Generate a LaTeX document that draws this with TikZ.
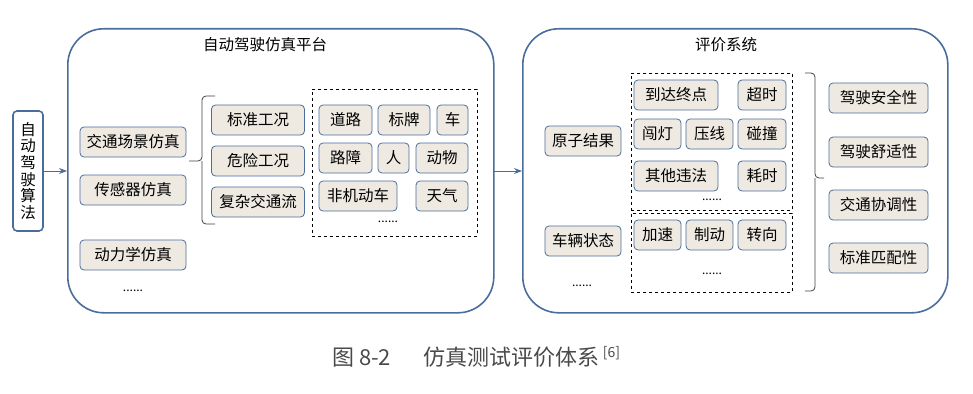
\documentclass[tikz,border=0pt]{standalone}
\usepackage{fontspec}
\setmainfont{Noto Sans CJK SC}
\usetikzlibrary{arrows.meta}
\definecolor{bc}{HTML}{4A6D9C}
\definecolor{bg}{HTML}{EEEAE2}
\definecolor{capc}{HTML}{4A4A4A}
\tikzset{
  bx/.style={draw=bc, fill=bg, line width=0.8pt, rounded corners=4pt, inner sep=0pt, minimum height=30pt, font=\fontsize{15.5}{17}\selectfont},
  big/.style={draw=bc, line width=1.6pt, rounded corners=36pt},
  dbox/.style={draw=black, dashed, line width=0.8pt},
  brc/.style={draw=black!75, line width=0.8pt, rounded corners=4pt},
  arr/.style={draw=bc, line width=1pt, -{Stealth[length=8pt,width=6pt]}},
  dots/.style={font=\fontsize{12}{13}\selectfont},
  ttl/.style={font=\fontsize{15.5}{17}\selectfont}
}
\begin{document}
\begin{tikzpicture}[x=1pt,y=-1pt]
\useasboundingbox (0,0) rectangle (973,393);
% big frames
\node[big, minimum width=426pt, minimum height=284pt, anchor=north west] (plat) at (67,28) {};
\node[big, minimum width=425pt, minimum height=284pt, anchor=north west] (eval) at (522,28) {};
\node[ttl] (t1) at (265,45) {自动驾驶仿真平台};
\node[ttl] (t2) at (726,45) {评价系统};
% algorithm
\node[draw=bc, line width=1.6pt, rounded corners=4pt, minimum width=30pt, minimum height=120pt, inner sep=0pt, align=center, font=\fontsize{15.5}{16.7}\selectfont] (alg) at (28,171) {自\\动\\驾\\驶\\算\\法};
\coordinate (p1) at (67,171);
\draw[arr] (alg.east |- p1) -- (p1);
\coordinate (p2a) at (493,171);
\coordinate (p2b) at (522,171);
\draw[arr] (p2a) -- (p2b);
% left column
\node[bx, minimum width=106pt] (jt) at (133,142) {交通场景仿真};
\node[bx, minimum width=106pt] (cg) at (133,190) {传感器仿真};
\node[bx, minimum width=106pt] (dl) at (133,255) {动力学仿真};
\node[dots] (d1) at (133,291) {......};
% brace 1
\draw[brc] (215,96) -| (202,161) -- (189,161);
\draw[brc] (215,224) -| (202,161);
% middle column
\node[bx, minimum width=93pt] (bz) at (258,120) {标准工况};
\node[bx, minimum width=93pt] (wx) at (258,161) {危险工况};
\node[bx, minimum width=93pt] (fz) at (258,202) {复杂交通流};
% dashed block 1
\node[dbox, minimum width=165pt, minimum height=147pt, anchor=north west, inner sep=0pt] (db1) at (312,89) {};
\node[bx, minimum width=53pt] (dl1) at (345.5,120) {道路};
\node[bx, minimum width=52pt] (bp) at (404,120) {标牌};
\node[bx, minimum width=31pt] (che) at (452.5,120) {车};
\node[bx, minimum width=53pt] (lz) at (345.5,158) {路障};
\node[bx, minimum width=31pt] (ren) at (393.5,158) {人};
\node[bx, minimum width=52pt] (dw) at (442,158) {动物};
\node[bx, minimum width=78pt] (fj) at (358,196) {非机动车};
\node[bx, minimum width=52pt] (tq) at (442,196) {天气};
\node[dots] (d2) at (388,222) {......};
% right panel
\node[bx, minimum width=76pt] (yz) at (583,141) {原子结果};
\node[bx, minimum width=76pt] (cl) at (583,241) {车辆状态};
\node[dots] (d3) at (582,286) {......};
\node[dbox, minimum width=161pt, minimum height=137pt, anchor=north west, inner sep=0pt] (db2) at (631,73) {};
\node[dbox, minimum width=161pt, minimum height=79pt, anchor=north west, inner sep=0pt] (db3) at (631,213) {};
\node[bx, minimum width=84pt] (dd) at (676,95) {到达终点};
\node[bx, minimum width=48pt] (cs) at (762,95) {超时};
\node[bx, minimum width=47pt] (cd) at (657.5,134) {闯灯};
\node[bx, minimum width=47pt] (yx) at (709.5,134) {压线};
\node[bx, minimum width=48pt] (pz) at (762,134) {碰撞};
\node[bx, minimum width=84pt] (qt) at (676,176) {其他违法};
\node[bx, minimum width=48pt] (hs) at (762,176) {耗时};
\node[dots] (d4) at (712,200) {......};
\node[bx, minimum width=47pt] (js) at (657.5,235) {加速};
\node[bx, minimum width=47pt] (zd) at (709.5,235) {制动};
\node[bx, minimum width=48pt] (zx) at (762,235) {转向};
\node[dots] (d5) at (712,274) {......};
% brace 2
\draw[brc] (805,73) -| (815,178) -- (824,178);
\draw[brc] (805,291) -| (815,178);
% criteria
\node[bx, minimum width=99pt] (aq) at (878.5,98) {驾驶安全性};
\node[bx, minimum width=99pt] (ss) at (878.5,152) {驾驶舒适性};
\node[bx, minimum width=99pt] (xt) at (878.5,205) {交通协调性};
\node[bx, minimum width=99pt] (pp) at (878.5,258) {标准匹配性};
% caption
\node[text=capc, font=\fontsize{22}{24}\selectfont, anchor=west, inner sep=0pt] (cap) at (332,357) {图 8-2\hspace{32pt}仿真测试评价体系\,\raisebox{8pt}{\fontsize{14}{15}\selectfont[6]}};
\end{tikzpicture}
\end{document}
